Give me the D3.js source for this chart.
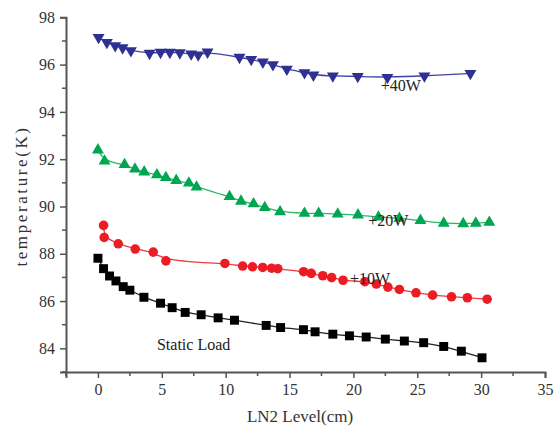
<!DOCTYPE html>
<html>
<head>
<meta charset="utf-8">
<script src="https://cdn.jsdelivr.net/npm/d3@7"></script>
<style>
  body { margin: 0; background: #fff; }
</style>
</head>
<body>
<div id="chart"></div>
<script>
// LN2 level (cm) and temperature (K) for each heat load
var staticX = [0, 0.44, 0.91, 1.41, 1.98, 2.5, 3.6, 4.9, 5.81, 6.83, 8.08, 9.41, 10.69, 13.17, 14.3, 16.09, 17.0, 18.39, 19.69, 21.0, 22.5, 23.99, 25.5, 27.07, 28.45, 30.07]
var staticY = [87.81, 87.37, 87.06, 86.85, 86.61, 86.46, 86.16, 85.91, 85.72, 85.52, 85.42, 85.29, 85.19, 84.97, 84.88, 84.79, 84.70, 84.60, 84.53, 84.48, 84.39, 84.31, 84.24, 84.08, 83.88, 83.60]

var w10X = [0.44, 0.49, 1.59, 2.92, 4.33, 5.32, 9.94, 11.33, 12.1, 12.9, 13.6, 14.08, 16.1, 16.7, 17.6, 18.3, 19.19, 20.9, 21.8, 22.7, 23.6, 24.9, 26.2, 27.68, 28.92, 30.47]
var w10Y = [89.20, 88.69, 88.42, 88.20, 88.07, 87.70, 87.59, 87.48, 87.45, 87.42, 87.39, 87.37, 87.24, 87.17, 87.07, 86.99, 86.88, 86.82, 86.72, 86.59, 86.49, 86.35, 86.25, 86.18, 86.14, 86.08]

var w20X = [0, 0.52, 2.08, 2.9, 3.62, 4.62, 5.32, 6.13, 7.12, 7.72, 10.3, 11.2, 12.18, 13.06, 14.26, 16.17, 17.28, 18.77, 20.36, 21.96, 23.6, 25.25, 27.07, 28.6, 29.58, 30.64]
var w20Y = [92.39, 91.92, 91.77, 91.58, 91.46, 91.34, 91.22, 91.10, 90.99, 90.82, 90.42, 90.22, 90.11, 89.95, 89.77, 89.71, 89.71, 89.68, 89.64, 89.55, 89.50, 89.41, 89.29, 89.27, 89.29, 89.33]

var w40X = [0.05, 0.7, 1.35, 1.93, 2.58, 4.04, 4.9, 5.63, 6.41, 7.3, 7.85, 8.58, 11.08, 12.0, 12.91, 13.7, 14.79, 16.17, 16.87, 18.39, 20.34, 22.66, 25.56, 29.16]
var w40Y = [97.15, 96.94, 96.80, 96.71, 96.59, 96.48, 96.52, 96.52, 96.50, 96.45, 96.41, 96.53, 96.31, 96.22, 96.11, 96.0, 95.81, 95.66, 95.56, 95.52, 95.50, 95.46, 95.52, 95.63]

var xTicks = [0, 5, 10, 15, 20, 25, 30, 35]
var yTicks = [84, 86, 88, 90, 92, 94, 96, 98]
var xMinor = [-2.5, 2.5, 7.5, 12.5, 17.5, 22.5, 27.5, 32.5]
var yMinor = [83, 85, 87, 89, 91, 93, 95, 97]

var seriesNames = ["Static Load", "+10W", "+20W", "+40W"]
// label anchors in data units (x, y)
var labelX = [4.62, 19.74, 21.17, 22.14]
var labelY = [83.93, 86.71, 89.17, 94.9]

var width = 556, height = 429
var margin = {top: 17.3, right: 11, bottom: 57, left: 66}
var serif = "'Liberation Serif', 'Times New Roman', serif"

var svg = d3.select("#chart").append("svg")
    .attr("width", width)
    .attr("height", height)

var x = d3.scaleLinear().domain([-2.5, 35]).range([margin.left, width - margin.right])
var y = d3.scaleLinear().domain([83, 98]).range([height - margin.bottom, margin.top])

var axisColor = "#555"

// x axis
var gx = svg.append("g")
    .attr("transform", "translate(0," + (height - margin.bottom) + ")")
    .call(d3.axisBottom(x).tickValues(xTicks).tickSize(6).tickPadding(6).tickFormat(d3.format("d")))
gx.append("g").selectAll("line")
    .data(xMinor).enter().append("line")
    .attr("x1", function(d){return x(d)})
    .attr("x2", function(d){return x(d)})
    .attr("y1", 0).attr("y2", 4)
    .attr("stroke", axisColor).attr("stroke-width", 1.5)

// y axis
var gy = svg.append("g")
    .attr("transform", "translate(" + margin.left + ",0)")
    .call(d3.axisLeft(y).tickValues(yTicks).tickSize(6).tickPadding(5).tickFormat(d3.format("d")))
gy.append("g").selectAll("line")
    .data(yMinor).enter().append("line")
    .attr("y1", function(d){return y(d)})
    .attr("y2", function(d){return y(d)})
    .attr("x1", 0).attr("x2", -4)
    .attr("stroke", axisColor).attr("stroke-width", 1.5)

svg.selectAll(".domain").attr("stroke", axisColor).attr("stroke-width", 2)
svg.selectAll(".tick line").attr("stroke", axisColor).attr("stroke-width", 1.5)
svg.selectAll(".tick text")
    .attr("fill", "#333")
    .style("font-family", serif)
    .style("font-size", "16px")

// axis titles
svg.append("text")
    .attr("x", 300).attr("y", 422)
    .attr("text-anchor", "middle")
    .attr("fill", "#333")
    .style("font-family", serif)
    .style("font-size", "17px")
    .text("LN2 Level(cm)")

svg.append("text")
    .attr("transform", "translate(27,196) rotate(-90)")
    .attr("text-anchor", "middle")
    .attr("fill", "#333")
    .style("font-family", serif)
    .style("font-size", "17px")
    .style("letter-spacing", "2.6px")
    .text("temperature(K)")

// series
var series = [
  {xs: staticX, ys: staticY, color: "#000000", line: "#222", shape: "square"},
  {xs: w10X, ys: w10Y, color: "#ed1c24", line: "#ee3a40", shape: "circle"},
  {xs: w20X, ys: w20Y, color: "#00a651", line: "#2db46a", shape: "up"},
  {xs: w40X, ys: w40Y, color: "#2e3192", line: "#3f43a0", shape: "down"}
]

var line = d3.line()
    .x(function(d){return x(d[0])})
    .y(function(d){return y(d[1])})
    .curve(d3.curveBasis)

var symbolFor = {
  square: d3.symbol().type(d3.symbolSquare).size(80),
  circle: d3.symbol().type(d3.symbolCircle).size(72),
  up: d3.symbol().type(d3.symbolTriangle).size(62)
}

series.forEach(function(s){
  var pts = s.xs.map(function(v, i){ return [v, s.ys[i]] })
  svg.append("path")
      .datum(pts)
      .attr("fill", "none")
      .attr("stroke", s.line)
      .attr("stroke-width", 1.3)
      .attr("d", line)

  var sym = s.shape === "down" ? symbolFor.up : symbolFor[s.shape]
  svg.append("g").selectAll("path")
      .data(pts).enter().append("path")
      .attr("d", sym)
      .attr("fill", s.color)
      .attr("transform", function(d){
        var t = "translate(" + x(d[0]) + "," + y(d[1]) + ")"
        if (s.shape === "down") t += " rotate(180)"
        return t
      })
})

// series labels
seriesNames.forEach(function(name, i){
  svg.append("text")
      .attr("x", x(labelX[i]))
      .attr("y", y(labelY[i]))
      .attr("fill", "#222")
      .style("font-family", serif)
      .style("font-size", "16px")
      .text(name)
})
</script>
</body>
</html>
